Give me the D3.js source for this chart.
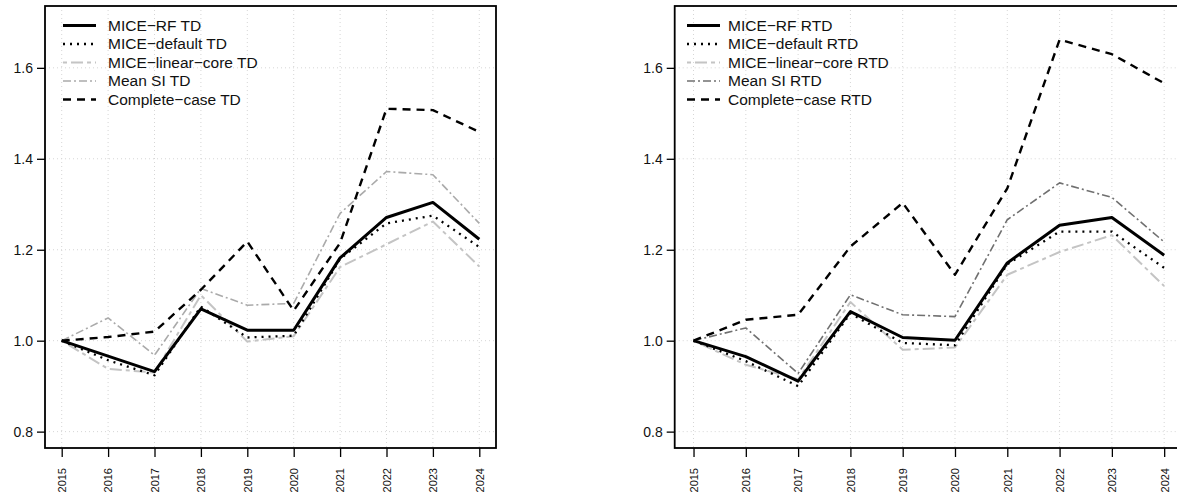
<!DOCTYPE html>
<html>
<head>
<meta charset="utf-8">
<script src="https://cdn.jsdelivr.net/npm/d3@7"></script>
<style>
  body { margin: 0; background: #fff; }
  svg { display: block; font-family: "Liberation Sans", Arial, sans-serif; }
</style>
</head>
<body>
<svg id="chart" width="1177" height="493"></svg>
<script>
// years on the x axis
var years = [2015, 2016, 2017, 2018, 2019, 2020, 2021, 2022, 2023, 2024];
var yTicks = [0.8, 1.0, 1.2, 1.4, 1.6];
var methodNames = ["MICE\u2212RF", "MICE\u2212default", "MICE\u2212linear\u2212core", "Mean SI", "Complete\u2212case"];

// TD panel
var rfTD       = [1.000, 0.966, 0.932, 1.070, 1.023, 1.023, 1.182, 1.271, 1.304, 1.223];
var defaultTD  = [1.000, 0.957, 0.924, 1.075, 1.007, 1.011, 1.180, 1.258, 1.275, 1.206];
var linearTD   = [1.000, 0.938, 0.930, 1.100, 0.998, 1.010, 1.162, 1.212, 1.262, 1.163];
var meanSITD   = [1.000, 1.050, 0.968, 1.115, 1.078, 1.082, 1.280, 1.372, 1.365, 1.258];
var completeTD = [1.000, 1.008, 1.020, 1.112, 1.218, 1.066, 1.215, 1.510, 1.507, 1.459];

// RTD panel
var rfRTD       = [1.000, 0.965, 0.911, 1.064, 1.007, 1.001, 1.171, 1.254, 1.271, 1.188];
var defaultRTD  = [1.000, 0.955, 0.900, 1.060, 0.995, 0.990, 1.168, 1.240, 1.240, 1.160];
var linearRTD   = [1.000, 0.947, 0.915, 1.085, 0.980, 0.985, 1.145, 1.195, 1.232, 1.120];
var meanSIRTD   = [1.000, 1.028, 0.928, 1.101, 1.057, 1.053, 1.266, 1.347, 1.315, 1.217];
var completeRTD = [1.000, 1.046, 1.057, 1.207, 1.303, 1.145, 1.335, 1.662, 1.630, 1.566];

(function(){
  var svg = d3.select("#chart");

  var plotTop = 6, plotBottom = 448;
  var y = d3.scaleLinear().domain([0.764, 1.736]).range([plotBottom, plotTop]);

  // line styles, order matches methodNames
  function styles(meanColor){
    return [
      {color: "#000", width: 3, dash: null},
      {color: "#000", width: 2.3, dash: "2,5"},
      {color: "#c4c4c4", width: 2, dash: "4,4,12,4"},
      {color: meanColor, width: 1.6, dash: "8,3,2,3"},
      {color: "#000", width: 2.4, dash: "8,6"}
    ];
  }

  var panels = [
    {suffix: "TD", left: 45, right: 496, symX: 63, textX: 108,
     series: [rfTD, defaultTD, linearTD, meanSITD, completeTD], st: styles("#aaaaaa")},
    {suffix: "RTD", left: 674.7, right: 1183, symX: 687, textX: 728,
     series: [rfRTD, defaultRTD, linearRTD, meanSIRTD, completeRTD], st: styles("#707070")}
  ];

  panels.forEach(function(p){
    var x = d3.scaleLinear()
        .domain([2015 - 0.36, 2024 + 0.36])
        .range([p.left, p.right]);

    var g = svg.append("g");

    // grid
    g.selectAll(".vgrid").data(years).enter().append("line")
      .attr("x1", function(d){ return x(d); }).attr("x2", function(d){ return x(d); })
      .attr("y1", plotTop).attr("y2", plotBottom)
      .attr("stroke", "#d6d6d6").attr("stroke-dasharray", "1,3");
    g.selectAll(".hgrid").data(yTicks).enter().append("line")
      .attr("x1", p.left).attr("x2", p.right)
      .attr("y1", function(d){ return y(d); }).attr("y2", function(d){ return y(d); })
      .attr("stroke", "#d6d6d6").attr("stroke-dasharray", "1,3");

    // lines: greys first so the black ones stay on top
    var order = [2, 3, 4, 1, 0];
    order.forEach(function(i){
      var s = p.st[i];
      var line = d3.line()
        .x(function(d, k){ return x(years[k]); })
        .y(function(d){ return y(d); });
      g.append("path")
        .attr("d", line(p.series[i]))
        .attr("fill", "none")
        .attr("stroke", s.color)
        .attr("stroke-width", s.width)
        .attr("stroke-dasharray", s.dash)
        .attr("stroke-linejoin", "round");
    });

    // frame
    g.append("rect")
      .attr("x", p.left).attr("y", plotTop)
      .attr("width", p.right - p.left).attr("height", plotBottom - plotTop)
      .attr("fill", "none").attr("stroke", "#000").attr("stroke-width", 1.8);

    // y axis
    var yAxis = g.append("g")
      .attr("transform", "translate(" + p.left + ",0)")
      .call(d3.axisLeft(y).tickValues(yTicks).tickSize(8).tickPadding(4)
        .tickFormat(d3.format(".1f")));
    yAxis.select(".domain").remove();
    yAxis.selectAll("line").attr("stroke", "#000").attr("stroke-width", 1.3);
    yAxis.selectAll("text").attr("font-size", 14).attr("fill", "#111")
      .attr("font-family", "Liberation Sans, Arial, sans-serif");

    // x axis, labels rotated like las = 2
    var xAxis = g.append("g")
      .attr("transform", "translate(0," + plotBottom + ")")
      .call(d3.axisBottom(x).tickValues(years).tickSize(9).tickFormat(d3.format("d")));
    xAxis.select(".domain").remove();
    xAxis.selectAll("line").attr("stroke", "#000").attr("stroke-width", 1.3);
    xAxis.selectAll("text")
      .attr("font-size", 11).attr("fill", "#111")
      .attr("font-family", "Liberation Sans, Arial, sans-serif")
      .attr("text-anchor", "end")
      .attr("transform", "rotate(-90)")
      .attr("x", -20).attr("y", 0).attr("dy", "0.35em");

    // legend
    var leg = g.append("g");
    methodNames.forEach(function(name, i){
      var s = p.st[i];
      var ly = 25.5 + 18.5 * i;
      leg.append("line")
        .attr("x1", p.symX).attr("x2", p.symX + 33)
        .attr("y1", ly).attr("y2", ly)
        .attr("stroke", s.color).attr("stroke-width", s.width)
        .attr("stroke-dasharray", s.dash);
      leg.append("text")
        .attr("x", p.textX).attr("y", ly).attr("dy", "0.35em")
        .attr("font-size", 15.5).attr("fill", "#111")
        .text(name + " " + p.suffix);
    });
  });
})();
</script>
</body>
</html>
